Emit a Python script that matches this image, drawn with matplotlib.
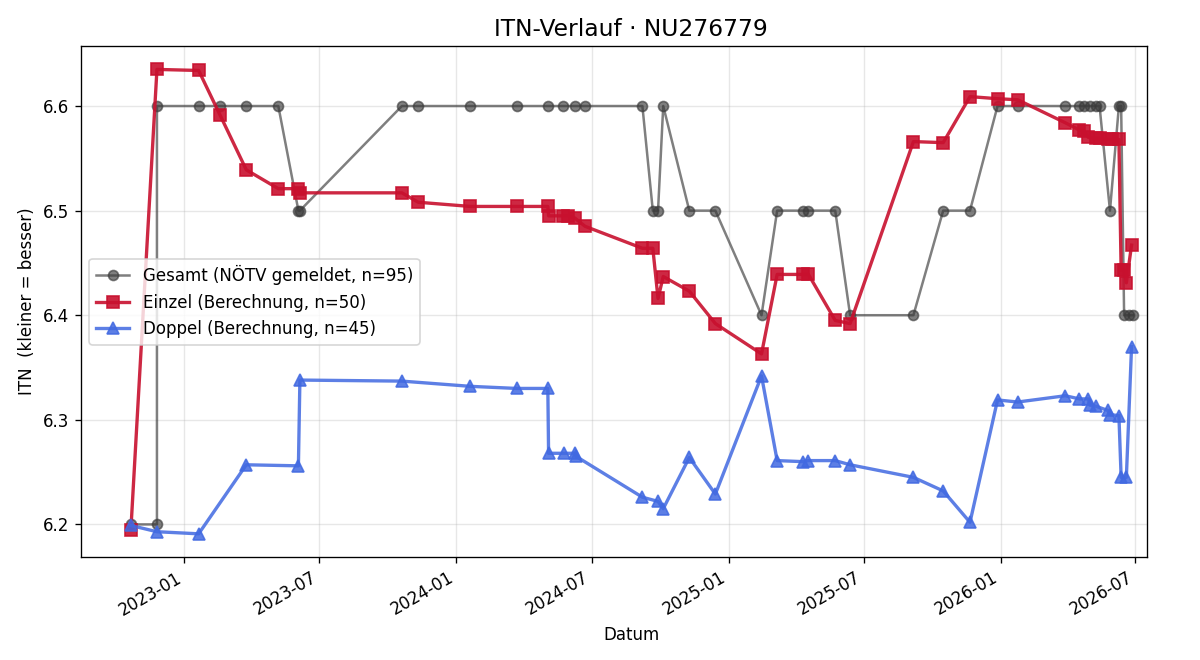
import matplotlib
matplotlib.use("Agg")
from matplotlib import pyplot as plt
import matplotlib.dates as mdates
import pandas as pd

# Gesamt (NÖTV gemeldet)
gesamt_dates = [
    "2022-10-21", "2022-11-25", "2022-11-25", "2023-01-20", "2023-02-18", "2023-03-25",
    "2023-05-07", "2023-06-03", "2023-06-05", "2023-10-20", "2023-11-11", "2024-01-20",
    "2024-03-22", "2024-05-03", "2024-05-24", "2024-06-08", "2024-06-22", "2024-09-07",
    "2024-09-21", "2024-09-28", "2024-10-05", "2024-11-09", "2024-12-14", "2025-02-14",
    "2025-03-07", "2025-04-11", "2025-04-18", "2025-05-24", "2025-06-13", "2025-09-06",
    "2025-10-16", "2025-11-21", "2025-12-28", "2026-01-24", "2026-03-29", "2026-04-17",
    "2026-04-23", "2026-05-01", "2026-05-09", "2026-05-14", "2026-05-28", "2026-06-09",
    "2026-06-12", "2026-06-16", "2026-06-23", "2026-06-28",
]
gesamt_values = [
    6.2, 6.2, 6.6, 6.6, 6.6, 6.6,
    6.6, 6.5, 6.5, 6.6, 6.6, 6.6,
    6.6, 6.6, 6.6, 6.6, 6.6, 6.6,
    6.5, 6.5, 6.6, 6.5, 6.5, 6.4,
    6.5, 6.5, 6.5, 6.5, 6.4, 6.4,
    6.5, 6.5, 6.6, 6.6, 6.6, 6.6,
    6.6, 6.6, 6.6, 6.6, 6.5, 6.6,
    6.6, 6.4, 6.4, 6.4,
]

# Einzel (Berechnung)
einzel_dates = [
    "2022-10-21", "2022-11-25", "2023-01-20", "2023-02-18", "2023-03-25", "2023-05-07",
    "2023-06-03", "2023-06-05", "2023-10-20", "2023-11-11", "2024-01-20", "2024-03-22",
    "2024-05-03", "2024-05-04", "2024-05-24", "2024-05-30", "2024-06-08", "2024-06-22",
    "2024-09-07", "2024-09-21", "2024-09-28", "2024-10-05", "2024-11-09", "2024-12-14",
    "2025-02-14", "2025-03-07", "2025-04-11", "2025-04-18", "2025-05-24", "2025-06-13",
    "2025-09-06", "2025-10-16", "2025-11-21", "2025-12-28", "2026-01-24", "2026-03-29",
    "2026-04-17", "2026-04-23", "2026-04-29", "2026-05-09", "2026-05-14", "2026-05-25",
    "2026-05-31", "2026-06-09", "2026-06-12", "2026-06-16", "2026-06-19", "2026-06-26",
]
einzel_values = [
    6.195, 6.635, 6.634, 6.591, 6.539, 6.521,
    6.521, 6.517, 6.517, 6.508, 6.504, 6.504,
    6.504, 6.495, 6.495, 6.495, 6.493, 6.485,
    6.464, 6.464, 6.416, 6.437, 6.423, 6.392,
    6.363, 6.439, 6.439, 6.439, 6.395, 6.392,
    6.566, 6.565, 6.609, 6.607, 6.606, 6.584,
    6.577, 6.576, 6.570, 6.569, 6.569, 6.568,
    6.568, 6.568, 6.443, 6.443, 6.431, 6.467,
]

# Doppel (Berechnung)
doppel_dates = [
    "2022-10-21", "2022-11-25", "2023-01-20", "2023-03-25", "2023-06-03", "2023-06-05",
    "2023-10-20", "2024-01-20", "2024-03-22", "2024-05-03", "2024-05-04", "2024-05-25",
    "2024-06-08", "2024-06-10", "2024-09-07", "2024-09-28", "2024-10-05", "2024-11-09",
    "2024-12-14", "2025-02-14", "2025-03-07", "2025-04-11", "2025-04-18", "2025-05-24",
    "2025-06-13", "2025-09-06", "2025-10-16", "2025-11-21", "2025-12-28", "2026-01-24",
    "2026-03-29", "2026-04-17", "2026-04-29", "2026-05-01", "2026-05-09", "2026-05-25",
    "2026-05-28", "2026-06-09", "2026-06-12", "2026-06-19", "2026-06-26",
]
doppel_values = [
    6.199, 6.193, 6.191, 6.257, 6.256, 6.338,
    6.337, 6.332, 6.330, 6.330, 6.268, 6.268,
    6.268, 6.265, 6.226, 6.222, 6.215, 6.264,
    6.229, 6.342, 6.261, 6.260, 6.261, 6.261,
    6.257, 6.245, 6.232, 6.202, 6.319, 6.317,
    6.323, 6.320, 6.320, 6.314, 6.313, 6.309,
    6.305, 6.304, 6.245, 6.245, 6.370,
]

fig, ax = plt.subplots(figsize=(10, 5.5), dpi=120)

ax.plot(pd.to_datetime(gesamt_dates), gesamt_values, marker="o", ms=6, lw=1.5,
        color="#3a3a3a", alpha=0.65, label="Gesamt (NÖTV gemeldet, n=95)")
ax.plot(pd.to_datetime(einzel_dates), einzel_values, marker="s", ms=7, lw=2,
        color="#c8102e", alpha=0.9, label="Einzel (Berechnung, n=50)")
ax.plot(pd.to_datetime(doppel_dates), doppel_values, marker="^", ms=7, lw=2,
        color="#4169e1", alpha=0.85, label="Doppel (Berechnung, n=45)")

ax.set_xlim(pd.Timestamp("2022-08-15"), pd.Timestamp("2026-07-17"))
ax.xaxis.set_major_locator(mdates.MonthLocator(bymonth=[1, 7]))
ax.xaxis.set_major_formatter(mdates.DateFormatter("%Y-%m"))

# title and x label sit a bit right of the axes centre in the original
ax.set_title("ITN-Verlauf · NU276779", fontsize=14, x=0.516)
ax.set_xlabel("Datum", x=0.516)
ax.set_ylabel("ITN  (kleiner = besser)")
ax.grid(True, alpha=0.3)
ax.legend(loc="center left")
fig.autofmt_xdate()
fig.subplots_adjust(left=0.0675, right=0.956, top=0.930, bottom=0.156)
fig.savefig("out.png")
